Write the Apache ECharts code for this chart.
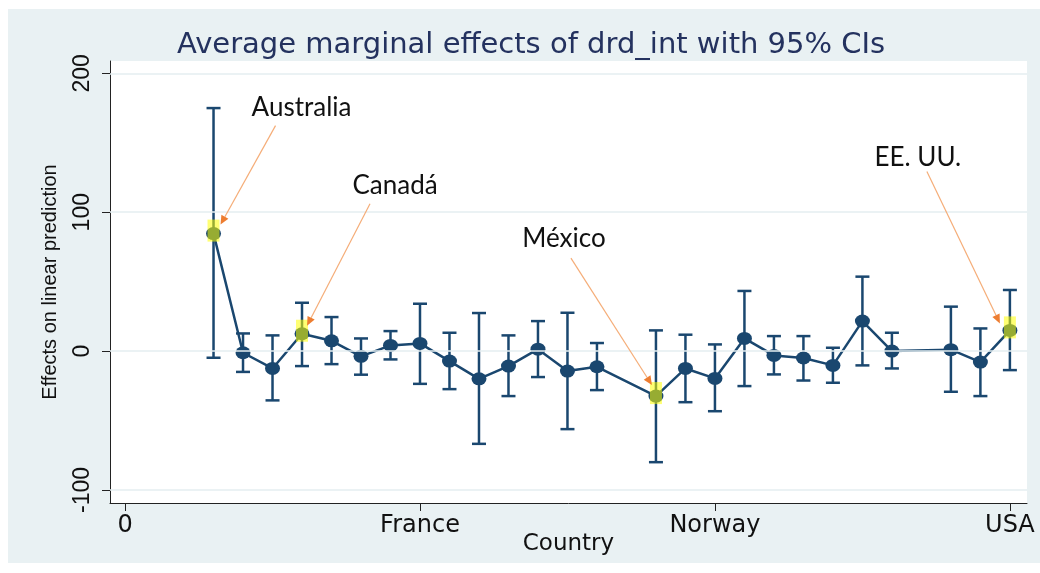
<!DOCTYPE html>
<html>
<head>
<meta charset="utf-8">
<script src="https://cdn.jsdelivr.net/npm/echarts@6/dist/echarts.min.js"></script>
<style>
  html, body { margin: 0; padding: 0; background: #fff; }
  #wrap { position: relative; width: 1040px; height: 573px; }
  #panel { position: absolute; left: 8px; top: 9px; width: 1032px; height: 554px; background: #e9f1f3; }
  #chart { position: absolute; left: 0; top: 0; width: 1040px; height: 573px; }
</style>
</head>
<body>
<div id="wrap"><div id="panel"></div><div id="chart"></div></div>
<script>
// Country codes (x position) with average marginal effect and 95% CI bounds
const countryCode = [3, 4, 5, 6, 7, 8, 9, 10, 11, 12, 13, 14, 15, 16, 18, 19, 20, 21, 22, 23, 24, 25, 26, 28, 29, 30];
const effect = [84.6, -1.2, -12.5, 12.5, 7.4, -3.8, 4.1, 5.5, -7.2, -20, -10.8, 1.4, -14.4, -11.3, -32.4, -12.5, -19.7, 9.1, -3.1, -5, -10.3, 21.6, 0, 1, -7.9, 14.9];
const ciUpper = [175, 12.7, 11.3, 34.8, 24.5, 9.1, 14.4, 34.1, 13.2, 27.4, 11.3, 21.6, 27.6, 5.8, 14.9, 11.8, 4.8, 43.3, 10.8, 10.8, 2.4, 53.6, 13.2, 32, 16.3, 44];
const ciLower = [-4.8, -15, -35.5, -10.8, -9.4, -17, -6, -23.6, -27.4, -66.8, -32.4, -18.7, -56.2, -28.1, -80, -36.8, -43.3, -25.2, -16.8, -21.2, -22.8, -10.3, -12.5, -29.3, -32.4, -13.7];

// Axis ticks
const xTickValues = [0, 10, 20, 30];
const xTickLabels = ['0', 'France', 'Norway', 'USA'];
const yTickValues = [-100, 0, 100, 200];

// Highlighted countries
const annotText = ['Australia', 'Canadá', 'México', 'EE. UU.'];
const annotCountry = [3, 6, 18, 30];

// Placement of callouts relative to their point, in pixels
const annotLayout = [
  { label: [88, -126], tail: [62, -108], head: [7, -9] },
  { label: [93, -148], tail: [68, -130], head: [5, -8] },
  { label: [-92, -157], tail: [-85, -138], head: [-4, -11] },
  { label: [-92, -173], tail: [-83, -159], head: [-10, -7] }
];

const NAVY = '#1a476f';
const AXIS_FONT = 'DejaVu Sans';

const chart = echarts.init(document.getElementById('chart'), null, { renderer: 'canvas' });

const pointData = countryCode.map((c, i) => [c, effect[i]]);
const ciData = countryCode.map((c, i) => [c, ciLower[i], ciUpper[i]]);

chart.setOption({
  animation: false,
  backgroundColor: 'transparent',
  title: {
    text: 'Average marginal effects of drd_int with 95% CIs',
    left: 172,
    top: 26,
    textStyle: { fontFamily: AXIS_FONT, fontSize: 29, fontWeight: 'normal', color: '#24325f' }
  },
  grid: { left: 110, top: 61, right: 13, bottom: 70, show: true, backgroundColor: '#ffffff', borderWidth: 0 },
  xAxis: {
    type: 'value',
    min: -0.51,
    max: 30.58,
    name: 'Country',
    nameLocation: 'middle',
    nameGap: 30,
    nameMoveOverlap: false,
    nameTextStyle: { fontFamily: AXIS_FONT, fontSize: 23, color: '#111' },
    axisLine: { show: true, onZero: false, lineStyle: { color: '#222', width: 1 } },
    axisTick: { show: true, customValues: xTickValues, length: 8, lineStyle: { color: '#222', width: 1 } },
    axisLabel: {
      customValues: xTickValues,
      margin: 11,
      fontFamily: AXIS_FONT,
      fontSize: 24,
      color: '#111',
      formatter: v => xTickLabels[xTickValues.indexOf(v)]
    },
    splitLine: { show: false }
  },
  yAxis: {
    type: 'value',
    min: -109.4,
    max: 208.9,
    name: 'Effects on linear prediction',
    nameLocation: 'middle',
    nameGap: 50,
    nameRotate: 90,
    nameMoveOverlap: false,
    nameTextStyle: { fontFamily: 'Liberation Sans', fontSize: 20, color: '#111' },
    axisLine: { show: true, onZero: false, lineStyle: { color: '#222', width: 1 } },
    axisTick: { show: true, customValues: yTickValues, length: 8, lineStyle: { color: '#222', width: 1 } },
    axisLabel: {
      customValues: yTickValues,
      rotate: 90,
      margin: 16,
      fontFamily: 'Liberation Sans',
      fontSize: 23,
      color: '#111'
    },
    splitLine: { show: false }
  },
  series: [
    {
      // horizontal reference lines at the y ticks
      type: 'line',
      data: [],
      z: 1,
      silent: true,
      markLine: {
        silent: true,
        symbol: 'none',
        label: { show: false },
        lineStyle: { color: '#e4eef0', width: 1.5, type: 'solid' },
        data: yTickValues.map(v => ({ yAxis: v }))
      }
    },
    {
      type: 'custom',
      z: 2,
      data: ciData,
      renderItem: function (params, api) {
        const x = api.value(0);
        const lo = api.coord([x, api.value(1)]);
        const hi = api.coord([x, api.value(2)]);
        const half = 7;
        const style = { stroke: NAVY, lineWidth: 2.5 };
        return {
          type: 'group',
          children: [
            { type: 'line', shape: { x1: lo[0], y1: lo[1], x2: hi[0], y2: hi[1] }, style },
            { type: 'line', shape: { x1: hi[0] - half, y1: hi[1], x2: hi[0] + half, y2: hi[1] }, style },
            { type: 'line', shape: { x1: lo[0] - half, y1: lo[1], x2: lo[0] + half, y2: lo[1] }, style }
          ]
        };
      }
    },
    {
      type: 'line',
      z: 3,
      data: pointData,
      symbol: 'circle',
      symbolSize: [15, 13],
      itemStyle: { color: NAVY },
      lineStyle: { color: NAVY, width: 2.5 }
    }
  ]
});

// Callouts: yellow highlight, orange arrow and label for each named country
function drawCallouts() {
  const els = [];
  annotCountry.forEach((code, i) => {
    const k = countryCode.indexOf(code);
    const p = chart.convertToPixel({ gridIndex: 0 }, [code, effect[k]]);
    const L = annotLayout[i];
    els.push({
      type: 'rect',
      z: 20,
      shape: { x: p[0] - 6, y: p[1] - 14, width: 12, height: 22 },
      style: { fill: 'rgba(255,255,0,0.55)' }
    });
    const tx = p[0] + L.tail[0], ty = p[1] + L.tail[1];
    const hx = p[0] + L.head[0], hy = p[1] + L.head[1];
    const len = Math.hypot(hx - tx, hy - ty);
    const dx = (hx - tx) / len, dy = (hy - ty) / len;
    const bx = hx - dx * 9, by = hy - dy * 9;
    const nx = -dy, ny = dx;
    els.push({
      type: 'line',
      z: 21,
      shape: { x1: tx, y1: ty, x2: bx, y2: by },
      style: { stroke: '#f5ad78', lineWidth: 1.2 }
    });
    els.push({
      type: 'polygon',
      z: 21,
      shape: { points: [[hx, hy], [bx + nx * 4, by + ny * 4], [bx - nx * 4, by - ny * 4]] },
      style: { fill: '#ed7d31' }
    });
    els.push({
      type: 'text',
      z: 22,
      x: p[0] + L.label[0],
      y: p[1] + L.label[1],
      style: {
        text: annotText[i],
        fontFamily: 'Lato',
        fontSize: 26,
        fill: '#111',
        align: 'center',
        verticalAlign: 'middle'
      }
    });
  });
  chart.setOption({ graphic: els });
}
drawCallouts();
</script>
</body>
</html>
